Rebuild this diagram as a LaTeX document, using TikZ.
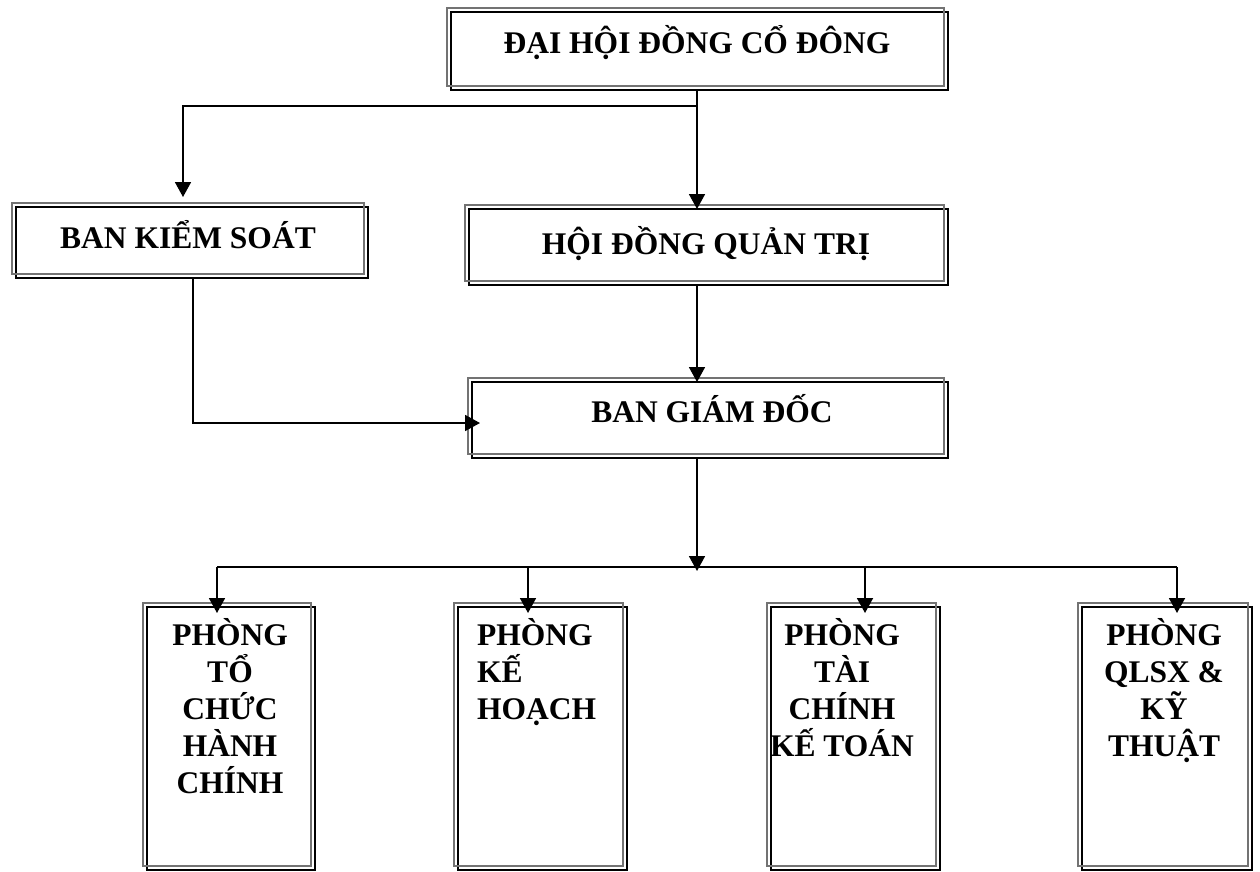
\documentclass[tikz,border=0pt]{standalone}
\usepackage{fontspec}
\setmainfont{Liberation Serif}
\usetikzlibrary{arrows.meta,calc}
\tikzset{
  box/.style={draw=black, line width=1.6pt, fill=none, inner sep=0pt, outer sep=0pt, anchor=north west},
  lbl/.style={font=\fontsize{31.5}{37}\selectfont\bfseries, inner sep=0pt, anchor=base},
  conn/.style={draw=black, line width=1.8pt},
  arr/.style={conn, -{Triangle[width=16pt,length=15pt]}},
  greyframe/.style={draw=black!55, line width=1.8pt}
}
\begin{document}
\begin{tikzpicture}[x=1pt,y=-1pt]
\useasboundingbox (0,0) rectangle (1260,871);
\fill[white] (0,0) rectangle (1260,871);

% boxes (black frames)
\node[box, minimum width=497pt, minimum height=78pt] (dh) at (451,12) {};
\node[box, minimum width=352pt, minimum height=71pt] (bks) at (16,207) {};
\node[box, minimum width=479pt, minimum height=76pt] (hd) at (469,209) {};
\node[box, minimum width=476pt, minimum height=76pt] (bgd) at (472,382) {};
\node[box, minimum width=168pt, minimum height=263pt] (p1) at (147,607) {};
\node[box, minimum width=169pt, minimum height=263pt] (p2) at (458,607) {};
\node[box, minimum width=169pt, minimum height=263pt] (p3) at (771,607) {};
\node[box, minimum width=170pt, minimum height=263pt] (p4) at (1082,607) {};

% grey offset frames
\foreach \n in {dh,bks,hd,bgd,p1,p2,p3,p4}
  \draw[greyframe] ($(\n.north west)+(-4,-4)$) rectangle ($(\n.south east)+(-4,-4)$);

% labels (multi-line nodes anchored at the baseline of their last line)
\node[lbl] (tdh) at (697,53) {ĐẠI HỘI ĐỒNG CỔ ĐÔNG};
\node[lbl] (tbks) at (188,248) {BAN KIỂM SOÁT};
\node[lbl] (thd) at (706,254) {HỘI ĐỒNG QUẢN TRỊ};
\node[lbl] (tbgd) at (712,422) {BAN GIÁM ĐỐC};
\node[lbl, align=center] (tp1) at (230,793) {PHÒNG\\TỔ\\CHỨC\\HÀNH\\CHÍNH};
\node[lbl, align=left, anchor=base west] (tp2) at (477,719) {PHÒNG\\KẾ\\HOẠCH};
\node[lbl, align=center] (tp3) at (842,756) {PHÒNG\\TÀI\\CHÍNH\\KẾ TOÁN};
\node[lbl, align=center] (tp4) at (1164,756) {PHÒNG\\QLSX \&\\KỸ\\THUẬT};

% connector coordinates
\coordinate (j1) at (697,106);
\coordinate (k1) at (183,197);
\coordinate (k2) at (193,423);
\coordinate (b0) at (697,567);
\coordinate (b1) at (217,567);
\coordinate (b2) at (528,567);
\coordinate (b3) at (865,567);
\coordinate (b4) at (1177,567);

% connectors
\draw[arr] (dh.south -| j1) -- (hd.north -| j1);
\draw[arr] (j1) -| (k1);
\draw[arr] (hd.south -| j1) -- (bgd.north -| j1);
\draw[arr] (bks.south -| k2) -- (k2) -- ($(bgd.west |- k2)+(8,0)$);
\draw[arr] (bgd.south -| b0) -- ($(b0)+(0,4)$);
\draw[conn] (b1) -- (b4);
\draw[arr] (b1) -- ($(p1.north -| b1)+(0,6)$);
\draw[arr] (b2) -- ($(p2.north -| b2)+(0,6)$);
\draw[arr] (b3) -- ($(p3.north -| b3)+(0,6)$);
\draw[arr] (b4) -- ($(p4.north -| b4)+(0,6)$);
\end{tikzpicture}
\end{document}
